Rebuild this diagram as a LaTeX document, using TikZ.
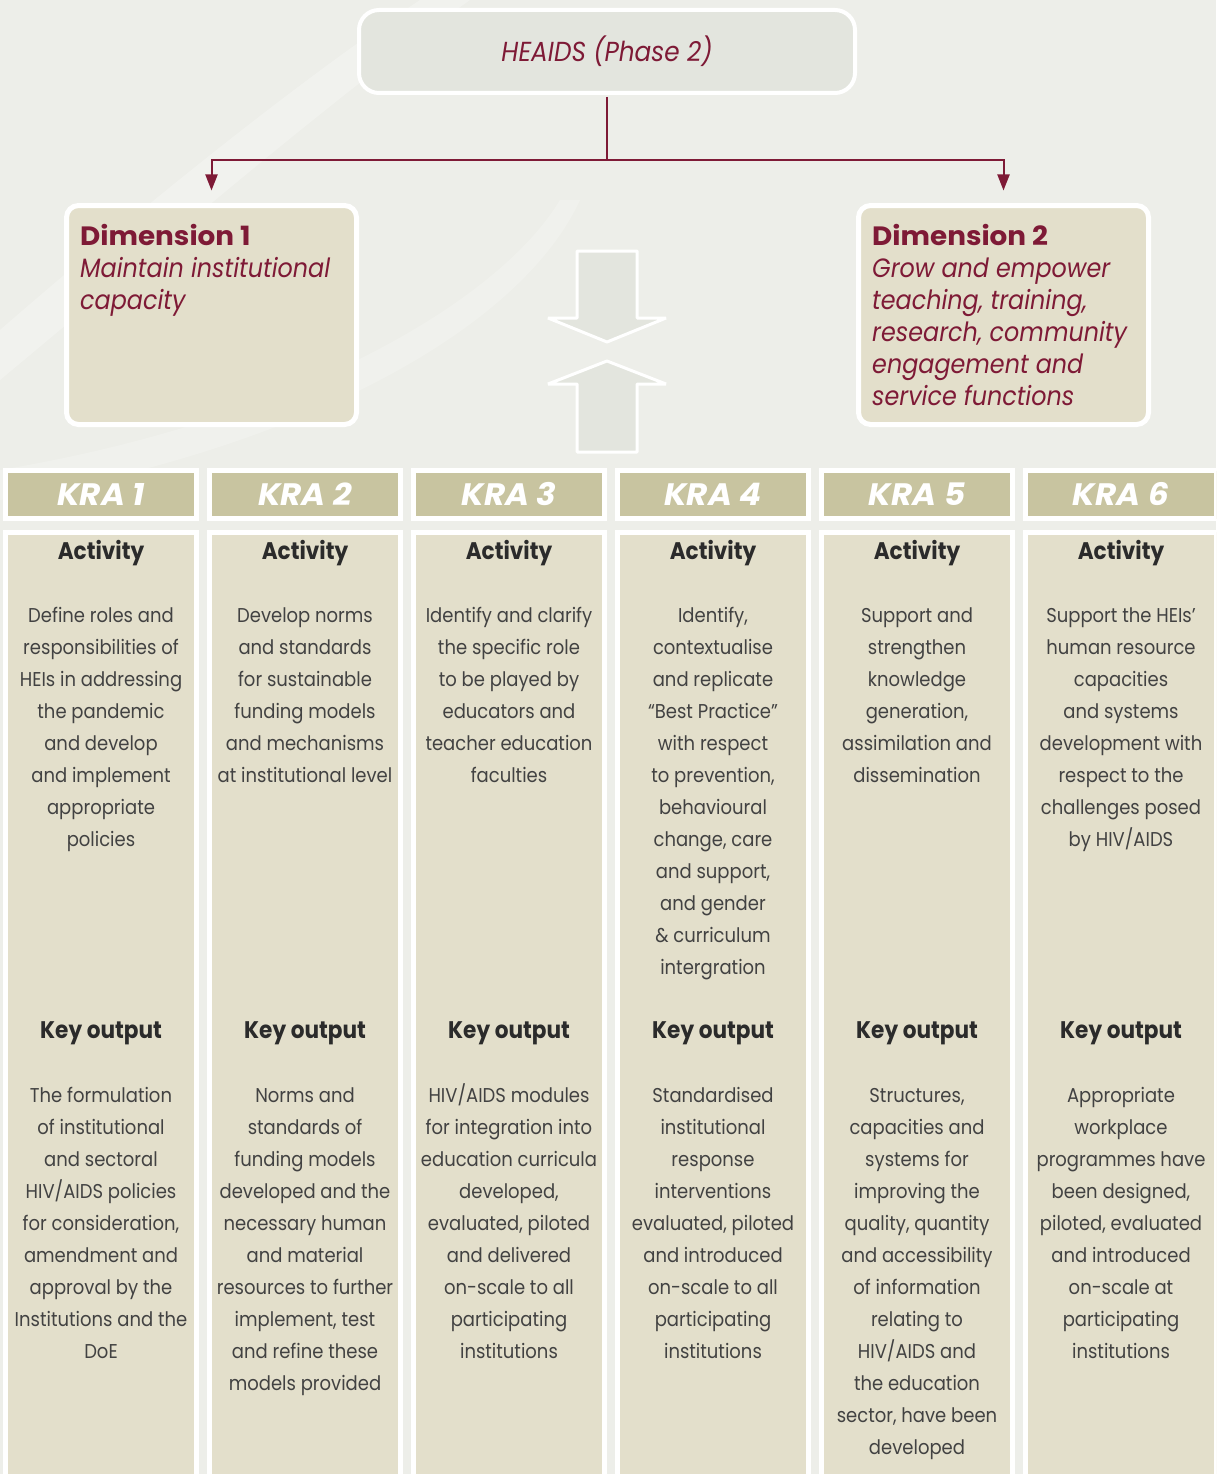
\documentclass[tikz,border=0pt]{standalone}
\usepackage{fontspec}
\setmainfont{Poppins}[FakeStretch=0.9]
\newfontfamily\widefont{Poppins}[FakeStretch=1.05]
\usetikzlibrary{arrows.meta,calc}
\definecolor{bgcol}{HTML}{EDEEE9}
\definecolor{topcol}{HTML}{E3E5DE}
\definecolor{dimcol}{HTML}{E3DFCB}
\definecolor{kracol}{HTML}{C8C4A0}
\definecolor{bodycol}{HTML}{E3DFCB}
\definecolor{maroon}{HTML}{7E1A36}
\definecolor{headcol}{HTML}{2B2B2B}
\definecolor{txtcol}{HTML}{424242}
\tikzset{
  topbox/.style={draw=white, line width=4pt, fill=topcol, rounded corners=20pt,
    minimum width=496pt, minimum height=83pt, inner sep=0pt, text=maroon,
    font=\fontsize{27.5}{30}\selectfont\itshape},
  dimbox/.style={draw=white, line width=5pt, fill=dimcol, rounded corners=12pt,
    minimum width=290pt, minimum height=219pt, inner sep=0pt},
  dimtxt/.style={font=\fontsize{26.5}{32}\selectfont, text=maroon, align=left,
    anchor=north west, inner sep=0pt},
  kra/.style={draw=white, line width=5pt, fill=kracol, minimum width=191pt,
    minimum height=48pt, inner sep=0pt, text=white,
    font=\widefont\fontsize{31}{36}\selectfont\bfseries\itshape},
  colbody/.style={draw=white, line width=5pt, fill=bodycol, minimum width=191pt,
    minimum height=980pt, anchor=north, inner sep=0pt},
  head/.style={font=\fontsize{24}{28}\selectfont\bfseries, text=headcol,
    anchor=base, inner sep=0pt},
  bodytxt/.style={font=\fontsize{20}{32}\selectfont, text=txtcol, align=center,
    anchor=north, inner sep=0pt},
  conn/.style={draw=maroon, line width=2pt},
  bigarrow/.style={fill=topcol, draw=white, line width=3pt, line join=bevel}
}
\begin{document}
\begin{tikzpicture}[x=1pt,y=-1pt]
\useasboundingbox (0,0) rectangle (1216,1474);
\clip (0,0) rectangle (1216,1474);
\fill[bgcol] (0,0) rectangle (1216,1474);
% faint background swooshes
\fill[white,opacity=0.25] (0,330) .. controls (150,200) and (300,80) .. (420,0) -- (470,0) .. controls (330,100) and (180,230) .. (0,380) -- cycle;
\fill[white,opacity=0.2] (0,470) .. controls (300,420) and (500,300) .. (560,200) -- (580,200) .. controls (520,330) and (300,450) .. (0,500) -- cycle;

% top box
\node[topbox] (top) at (607,51.5) {HEAIDS (Phase 2)};

% dimension boxes
\node[dimbox] (d1) at (211.5,315) {};
\node[dimbox] (d2) at (1003.5,315) {};
\node[dimtxt] (d1t) at (80,222.6) {\strut{\widefont\bfseries Dimension 1}\\\textit{Maintain institutional}\\\textit{capacity}};
\node[dimtxt] (d2t) at (872,222.6) {\strut{\widefont\bfseries Dimension 2}\\\textit{Grow and empower}\\\textit{teaching, training,}\\\textit{research, community}\\\textit{engagement and}\\\textit{service functions}};

% connectors
\coordinate (j) at (607,160);
\draw[conn, shorten <=2pt] (top.south) -- (j);
\draw[conn, shorten >=12.5pt, -{Triangle[length=16pt,width=12pt]}] (j) -| (d1.north);
\draw[conn, shorten >=12.5pt, -{Triangle[length=16pt,width=12pt]}] (j) -| (d2.north);

% central arrows
\draw[bigarrow] (577,251) -- (637,251) -- (637,318) -- (666,318) -- (607,342) -- (548,318) -- (577,318) -- cycle;
\draw[bigarrow] (607,361) -- (666,384) -- (637,384) -- (637,452) -- (577,452) -- (577,384) -- (548,384) -- cycle;

% columns
\foreach \i in {1,...,6}{
  \pgfmathsetmacro\cx{101+204*(\i-1)}
  \node[kra] (kra\i) at (\cx,494.5) {KRA \i};
  \node[colbody] (col\i) at (\cx,529.5) {};
  \node[head] (act\i) at (\cx,559) {Activity};
  \node[head] (key\i) at (\cx,1038) {Key output};
}

% activity texts
\node[bodytxt] (a1) at (101,599.6) {\strut Define roles and\\responsibilities of\\HEIs in addressing\\the pandemic\\and develop\\and implement\\appropriate\\policies};
\node[bodytxt] (a2) at (305,599.6) {\strut Develop norms\\and standards\\for sustainable\\funding models\\and mechanisms\\at institutional level};
\node[bodytxt] (a3) at (509,599.6) {\strut Identify and clarify\\the specific role\\to be played by\\educators and\\teacher education\\faculties};
\node[bodytxt] (a4) at (713,599.6) {\strut Identify,\\contextualise\\and replicate\\“Best Practice”\\with respect\\to prevention,\\behavioural\\change, care\\and support,\\and gender\\\& curriculum\\intergration};
\node[bodytxt] (a5) at (917,599.6) {\strut Support and\\strengthen\\knowledge\\generation,\\assimilation and\\dissemination};
\node[bodytxt] (a6) at (1121,599.6) {\strut Support the HEIs’\\human resource\\capacities\\and systems\\development with\\respect to the\\challenges posed\\by HIV/AIDS};

% key output texts
\node[bodytxt] (k1) at (101,1079.6) {\strut The formulation\\of institutional\\and sectoral\\HIV/AIDS policies\\for consideration,\\amendment and\\approval by the\\Institutions and the\\DoE};
\node[bodytxt] (k2) at (305,1079.6) {\strut Norms and\\standards of\\funding models\\developed and the\\necessary human\\and material\\resources to further\\implement, test\\and refine these\\models provided};
\node[bodytxt] (k3) at (509,1079.6) {\strut HIV/AIDS modules\\for integration into\\education curricula\\developed,\\evaluated, piloted\\and delivered\\on-scale to all\\participating\\institutions};
\node[bodytxt] (k4) at (713,1079.6) {\strut Standardised\\institutional\\response\\interventions\\evaluated, piloted\\and introduced\\on-scale to all\\participating\\institutions};
\node[bodytxt] (k5) at (917,1079.6) {\strut Structures,\\capacities and\\systems for\\improving the\\quality, quantity\\and accessibility\\of information\\relating to\\HIV/AIDS and\\the education\\sector, have been\\developed};
\node[bodytxt] (k6) at (1121,1079.6) {\strut Appropriate\\workplace\\programmes have\\been designed,\\piloted, evaluated\\and introduced\\on-scale at\\participating\\institutions};
\end{tikzpicture}
\end{document}
